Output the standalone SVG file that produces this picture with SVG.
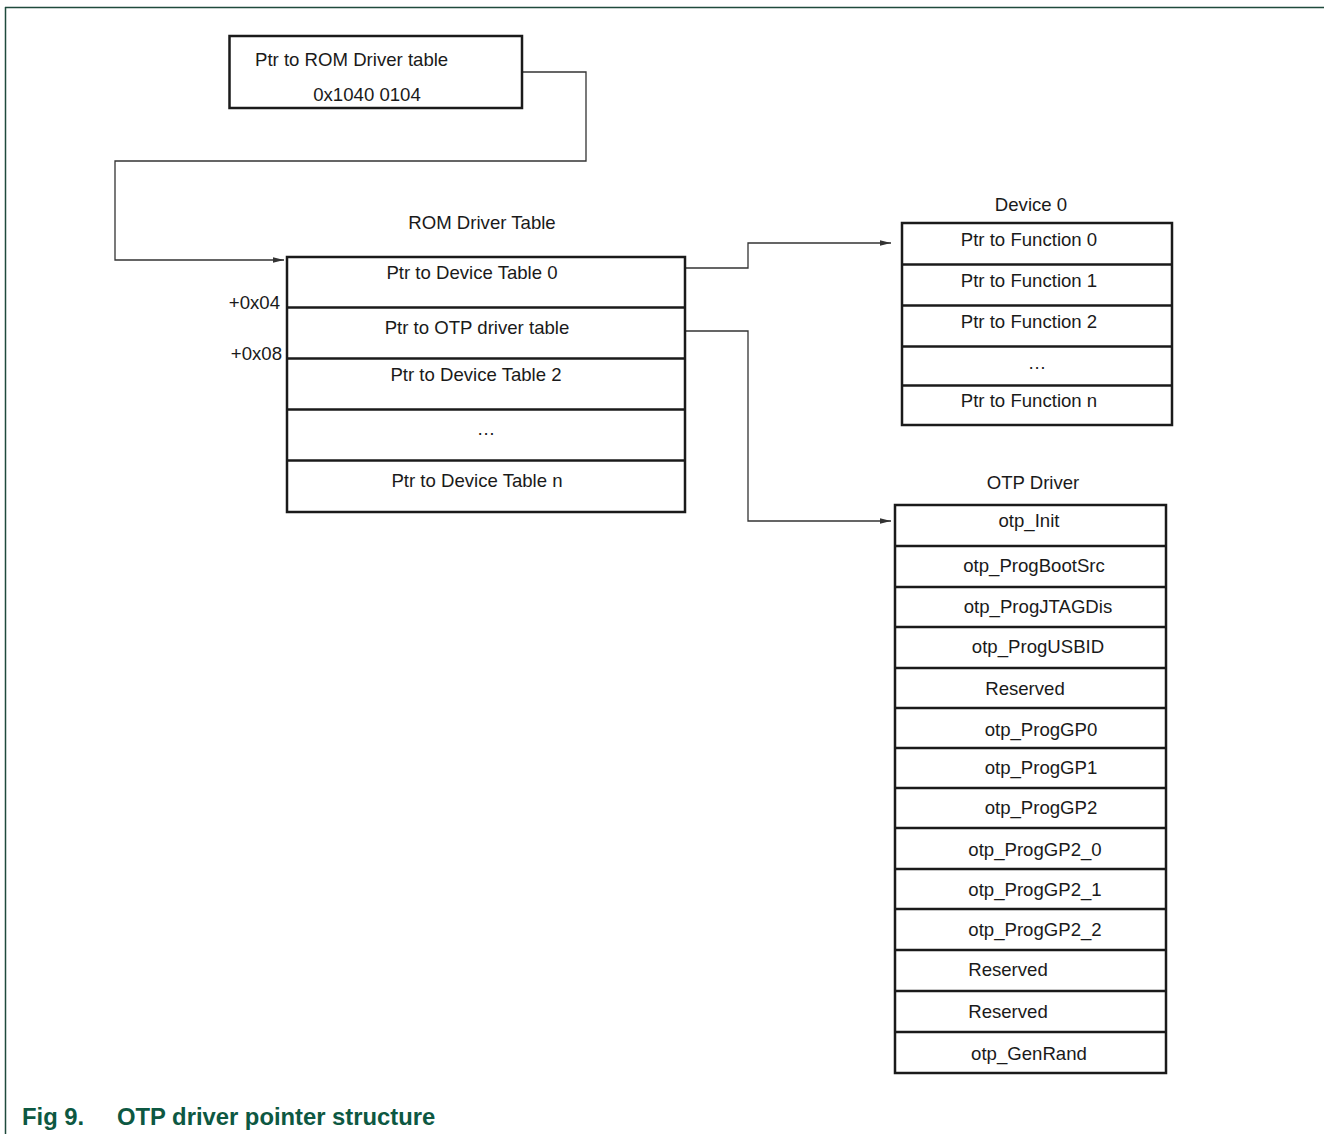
<svg xmlns="http://www.w3.org/2000/svg" width="1325" height="1134" viewBox="0 0 1325 1134">
<style>
.t{font-family:"Liberation Sans",Arial,sans-serif;font-size:18.6px;fill:#1a1a1a}
.c{text-anchor:middle}
.r{text-anchor:end}
.box{fill:#fff;stroke:#1a1a1a;stroke-width:2.5}
.row{fill:none;stroke:#1a1a1a;stroke-width:2.5}
.conn{fill:none;stroke:#333;stroke-width:1.3}
.cap{font-family:"Liberation Sans",Arial,sans-serif;font-size:23.8px;font-weight:bold;fill:#0d5842}
</style>
<defs>
<marker id="arr" markerWidth="11" markerHeight="7" refX="11" refY="3.5" orient="auto" markerUnits="userSpaceOnUse">
<path d="M0,0.8 L11,3.5 L0,6.2 Z" fill="#333"/>
</marker>
</defs>
<rect width="1325" height="1134" fill="#fff"/>
<g id="frame">
<line x1="5" y1="7.5" x2="1324" y2="7.5" stroke="#1f4a3c" stroke-width="1.5"/>
<line x1="5.5" y1="7" x2="5.5" y2="1134" stroke="#1f4a3c" stroke-width="1.5"/>
</g>
<g id="connectors">
<polyline class="conn" points="522,72 586,72 586,161 115,161 115,260 284,260" marker-end="url(#arr)"/>
<polyline class="conn" points="685,268 748,268 748,243 891,243" marker-end="url(#arr)"/>
<polyline class="conn" points="685,331 748,331 748,521 891,521" marker-end="url(#arr)"/>
</g>
<g id="rom-pointer">
<rect class="box" x="229.5" y="36" width="292.5" height="72"/>
<text class="t" x="255" y="66">Ptr to ROM Driver table</text>
<text class="t c" x="367" y="101">0x1040 0104</text>
</g>
<g id="rom-driver-table">
<text class="t c" x="482" y="229">ROM Driver Table</text>
<rect class="box" x="287" y="257" width="398" height="255"/>
<line class="row" x1="287" y1="307.5" x2="685" y2="307.5"/>
<line class="row" x1="287" y1="358.5" x2="685" y2="358.5"/>
<line class="row" x1="287" y1="409.5" x2="685" y2="409.5"/>
<line class="row" x1="287" y1="460.5" x2="685" y2="460.5"/>
<text class="t c" x="472" y="279">Ptr to Device Table 0</text>
<text class="t c" x="477" y="334">Ptr to OTP driver table</text>
<text class="t c" x="476" y="381">Ptr to Device Table 2</text>
<text class="t c" x="486" y="435">…</text>
<text class="t c" x="477" y="487">Ptr to Device Table n</text>
<text class="t r" x="280" y="309">+0x04</text>
<text class="t r" x="282" y="360">+0x08</text>
</g>
<g id="device0">
<text class="t c" x="1031" y="211">Device 0</text>
<rect class="box" x="902" y="223" width="270" height="202"/>
<line class="row" x1="902" y1="264.5" x2="1172" y2="264.5"/>
<line class="row" x1="902" y1="305.5" x2="1172" y2="305.5"/>
<line class="row" x1="902" y1="346.5" x2="1172" y2="346.5"/>
<line class="row" x1="902" y1="385.5" x2="1172" y2="385.5"/>
<text class="t c" x="1029" y="246">Ptr to Function 0</text>
<text class="t c" x="1029" y="287">Ptr to Function 1</text>
<text class="t c" x="1029" y="328">Ptr to Function 2</text>
<text class="t c" x="1037" y="369">…</text>
<text class="t c" x="1029" y="407">Ptr to Function n</text>
</g>
<g id="otp-driver">
<text class="t c" x="1033" y="489">OTP Driver</text>
<rect class="box" x="895" y="505" width="271" height="568"/>
<line class="row" x1="895" y1="546" x2="1166" y2="546"/>
<line class="row" x1="895" y1="587" x2="1166" y2="587"/>
<line class="row" x1="895" y1="627" x2="1166" y2="627"/>
<line class="row" x1="895" y1="668" x2="1166" y2="668"/>
<line class="row" x1="895" y1="708" x2="1166" y2="708"/>
<line class="row" x1="895" y1="748" x2="1166" y2="748"/>
<line class="row" x1="895" y1="788" x2="1166" y2="788"/>
<line class="row" x1="895" y1="828" x2="1166" y2="828"/>
<line class="row" x1="895" y1="869" x2="1166" y2="869"/>
<line class="row" x1="895" y1="909" x2="1166" y2="909"/>
<line class="row" x1="895" y1="950" x2="1166" y2="950"/>
<line class="row" x1="895" y1="991" x2="1166" y2="991"/>
<line class="row" x1="895" y1="1032" x2="1166" y2="1032"/>
<text class="t c" x="1029" y="527">otp_Init</text>
<text class="t c" x="1034" y="572">otp_ProgBootSrc</text>
<text class="t c" x="1038" y="613">otp_ProgJTAGDis</text>
<text class="t c" x="1038" y="653">otp_ProgUSBID</text>
<text class="t c" x="1025" y="695">Reserved</text>
<text class="t c" x="1041" y="736">otp_ProgGP0</text>
<text class="t c" x="1041" y="774">otp_ProgGP1</text>
<text class="t c" x="1041" y="814">otp_ProgGP2</text>
<text class="t c" x="1035" y="856">otp_ProgGP2_0</text>
<text class="t c" x="1035" y="896">otp_ProgGP2_1</text>
<text class="t c" x="1035" y="936">otp_ProgGP2_2</text>
<text class="t c" x="1008" y="976">Reserved</text>
<text class="t c" x="1008" y="1018">Reserved</text>
<text class="t c" x="1029" y="1060">otp_GenRand</text>
</g>
<g id="caption">
<text class="cap" x="22" y="1125">Fig 9.</text>
<text class="cap" x="117" y="1125">OTP driver pointer structure</text>
</g>
</svg>
